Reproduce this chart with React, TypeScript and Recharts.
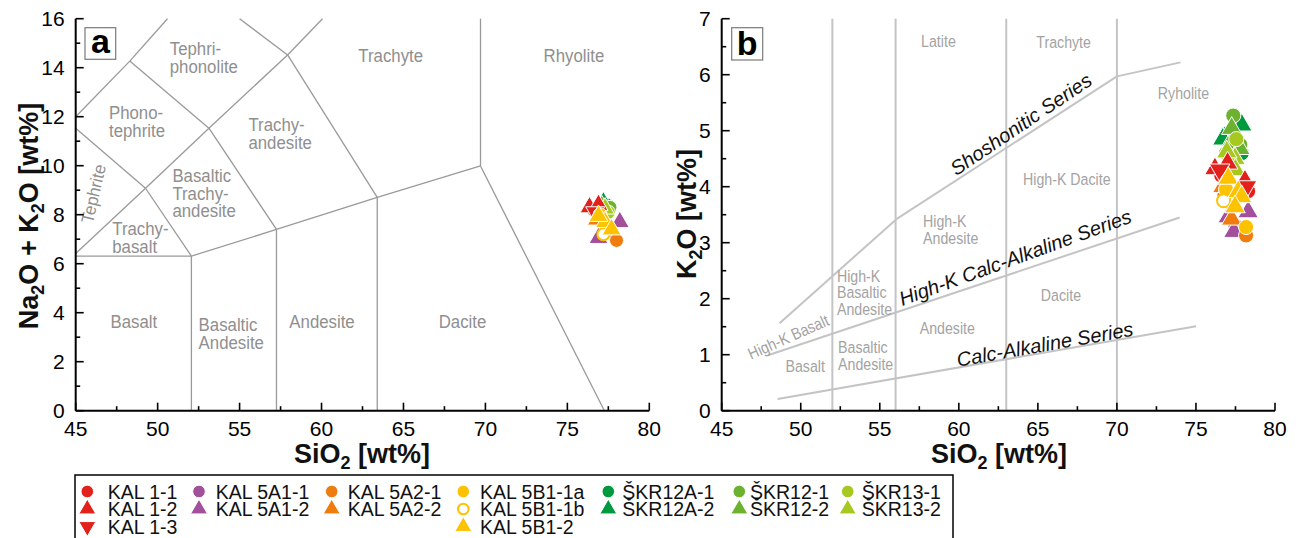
import React from 'react';
import { ScatterChart, Scatter, XAxis, YAxis, ReferenceLine } from 'recharts';

const FONT = '"Liberation Sans", Arial, Helvetica, sans-serif';

// axis ticks (majors carry labels, the rest are minor ticks)
const siTicks = [45, 47.5, 50, 52.5, 55, 57.5, 60, 62.5, 65, 67.5, 70, 72.5, 75, 77.5, 80];
const tasTicks = [0, 1, 2, 3, 4, 5, 6, 7, 8, 9, 10, 11, 12, 13, 14, 15, 16];
const k2oTicks = [0, 0.5, 1, 1.5, 2, 2.5, 3, 3.5, 4, 4.5, 5, 5.5, 6, 6.5, 7];

// samples
const sampleNames = [
  'KAL 1-1', 'KAL 1-2', 'KAL 1-3', 'KAL 5A1-1', 'KAL 5A1-2', 'KAL 5A2-1', 'KAL 5A2-2',
  'KAL 5B1-1a', 'KAL 5B1-1b', 'KAL 5B1-2', 'ŠKR12A-1', 'ŠKR12A-2', 'ŠKR12-1', 'ŠKR12-2',
  'ŠKR13-1', 'ŠKR13-2',
];
const sampleColors = [
  '#e3211c', '#e3211c', '#e3211c', '#a3509c', '#a3509c', '#ef7c0e', '#ef7c0e',
  '#fdc300', '#fdc300', '#fdc300', '#009a3e', '#009a3e', '#6bb32e', '#6bb32e',
  '#a6c81f', '#a6c81f',
];
const sampleShapes = [
  'circle', 'triangle', 'down', 'circle', 'triangle', 'circle', 'triangle',
  'circle', 'open', 'triangle', 'circle', 'triangle', 'circle', 'triangle',
  'circle', 'triangle',
];

// TAS: [SiO2, Na2O+K2O]
const tasKAL11 = [[76.6, 8.2]];
const tasKAL12 = [[76.35, 8.3], [76.9, 8.4]];
const tasKAL13 = [[76.7, 8.1]];
const tasKAL5A11 = [[77.6, 7.35]];
const tasKAL5A12 = [[78.2, 7.7], [76.9, 7.05]];
const tasKAL5A21 = [[78.0, 6.95], [77.3, 7.6]];
const tasKAL5A22 = [[76.8, 7.8]];
const tasKAL5B11a = [[77.4, 7.4], [77.0, 8.0]];
const tasKAL5B11b = [[77.2, 7.2]];
const tasKAL5B12 = [[77.3, 7.7], [76.9, 7.95], [77.7, 7.4]];
const tasSKR12A1 = [[77.4, 8.4]];
const tasSKR12A2 = [[77.2, 8.5]];
const tasSKR121 = [[77.6, 8.3]];
const tasSKR122 = [[77.1, 8.35]];
const tasSKR131 = [[77.5, 8.1]];
const tasSKR132 = [[77.3, 8.25]];

// K2O vs SiO2: [SiO2, K2O]
const kKAL11 = [[78.3, 3.92], [76.6, 4.2]];
const kKAL12 = [[76.2, 4.32], [77.0, 4.42], [78.1, 4.1]];
const kKAL13 = [[76.5, 4.3], [78.2, 4.0]];
const kKAL5A11 = [[77.5, 3.3]];
const kKAL5A12 = [[77.04, 3.46], [78.3, 3.55], [77.4, 3.2]];
const kKAL5A21 = [[78.17, 3.13], [76.8, 3.85]];
const kKAL5A22 = [[77.26, 3.42], [76.7, 4.0]];
const kKAL5B11a = [[78.17, 3.28], [76.9, 3.95]];
const kKAL5B11b = [[76.75, 3.75]];
const kKAL5B12 = [[77.04, 4.15], [77.67, 3.91], [77.89, 3.82], [77.47, 3.64]];
const kSKR12A1 = [[77.0, 4.95], [77.9, 4.6]];
const kSKR12A2 = [[77.9, 5.1], [76.7, 4.85]];
const kSKR121 = [[77.36, 5.27], [77.8, 4.75], [77.2, 4.45]];
const kSKR122 = [[77.26, 5.04], [77.04, 4.71], [77.78, 4.68]];
const kSKR131 = [[76.9, 4.6], [77.55, 4.85]];
const kSKR132 = [[77.47, 4.5], [76.95, 4.62], [77.5, 4.3]];

const tasData = [tasKAL11, tasKAL12, tasKAL13, tasKAL5A11, tasKAL5A12, tasKAL5A21, tasKAL5A22,
  tasKAL5B11a, tasKAL5B11b, tasKAL5B12, tasSKR12A1, tasSKR12A2, tasSKR121, tasSKR122, tasSKR131, tasSKR132];
const k2oData = [kKAL11, kKAL12, kKAL13, kKAL5A11, kKAL5A12, kKAL5A21, kKAL5A22,
  kKAL5B11a, kKAL5B11b, kKAL5B12, kSKR12A1, kSKR12A2, kSKR121, kSKR122, kSKR131, kSKR132];

// field boundaries, TAS
const tasFieldLines = [
  [[45, 12], [48.3, 14.27], [50.6, 16]],
  [[45, 11.53], [49.26, 9.08], [52.06, 6.31]],
  [[45, 6.31], [52.06, 6.31], [52.06, 0]],
  [[45, 6.42], [49.26, 9.08], [53.13, 11.53], [57.93, 14.52], [60.06, 16]],
  [[48.3, 14.27], [53.13, 11.53], [57.25, 7.4]],
  [[55.0, 16], [57.93, 14.52], [63.4, 8.71]],
  [[52.06, 6.31], [57.25, 7.4], [63.4, 8.71], [69.7, 9.99], [77.26, 0]],
  [[57.25, 7.4], [57.25, 0]],
  [[63.4, 8.71], [63.4, 0]],
  [[69.7, 16], [69.7, 9.99]],
];

// field boundaries, K2O
const k2oVerticals = [52, 56, 63, 70];
const k2oSeriesLines = [
  [[48.66, 1.56], [56.05, 3.42], [70, 5.97], [74.02, 6.22]],
  [[47.93, 0.99], [73.97, 3.45]],
  [[48.54, 0.21], [75.01, 1.51]],
];

const tasFieldLabels = [
  { x: 50.74, y: 14.76, text: ['Tephri-', 'phonolite'], anchor: 'start' },
  { x: 64.22, y: 14.48, text: ['Trachyte'], anchor: 'middle' },
  { x: 75.4, y: 14.48, text: ['Rhyolite'], anchor: 'middle' },
  { x: 47.03, y: 12.15, text: ['Phono-', 'tephrite'], anchor: 'start' },
  { x: 55.54, y: 11.66, text: ['Trachy-', 'andesite'], anchor: 'start' },
  { x: 50.9, y: 9.58, text: ['Basaltic', 'Trachy-', 'andesite'], anchor: 'start' },
  { x: 47.23, y: 7.42, text: ['Trachy-', 'basalt'], anchor: 'start' },
  { x: 46.07, y: 8.86, text: ['Tephrite'], anchor: 'middle', angle: -77 },
  { x: 48.55, y: 3.62, text: ['Basalt'], anchor: 'middle' },
  { x: 52.5, y: 3.5, text: ['Basaltic', 'Andesite'], anchor: 'start' },
  { x: 60.03, y: 3.62, text: ['Andesite'], anchor: 'middle' },
  { x: 68.6, y: 3.62, text: ['Dacite'], anchor: 'middle' },
];

const k2oFieldLabels = [
  { x: 58.71, y: 6.6, text: ['Latite'], anchor: 'middle' },
  { x: 66.63, y: 6.58, text: ['Trachyte'], anchor: 'middle' },
  { x: 74.21, y: 5.67, text: ['Ryholite'], anchor: 'middle' },
  { x: 66.83, y: 4.14, text: ['High-K Dacite'], anchor: 'middle' },
  { x: 57.74, y: 3.38, text: ['High-K', 'Andesite'], anchor: 'start' },
  { x: 52.29, y: 2.41, text: ['High-K', 'Basaltic', 'Andesite'], anchor: 'start' },
  { x: 66.46, y: 2.07, text: ['Dacite'], anchor: 'middle' },
  { x: 59.27, y: 1.47, text: ['Andesite'], anchor: 'middle' },
  { x: 52.36, y: 1.13, text: ['Basaltic', 'Andesite'], anchor: 'start' },
  { x: 50.28, y: 0.79, text: ['Basalt'], anchor: 'middle' },
  { x: 49.21, y: 1.32, text: ['High-K Basalt'], anchor: 'middle', angle: -24 },
];

const k2oSeriesLabels = [
  { x: 63.92, y: 5.12, text: ['Shoshonitic Series'], anchor: 'middle', angle: -34 },
  { x: 63.56, y: 2.74, text: ['High-K Calc-Alkaline Series'], anchor: 'middle', angle: -20 },
  { x: 65.44, y: 1.19, text: ['Calc-Alkaline Series'], anchor: 'middle', angle: -10 },
];

const samples = sampleNames.map((name, i) => ({
  name,
  color: sampleColors[i],
  shape: sampleShapes[i],
  tas: tasData[i].map(([x, y]) => ({ x, y })),
  k2o: k2oData[i].map(([x, y]) => ({ x, y })),
}));
// ŠKR drawn first, KAL on top
const drawOrder = [10, 11, 12, 13, 14, 15, 0, 1, 2, 3, 4, 5, 6, 7, 8, 9];

function Marker({ cx, cy, shape, color, size = 1 }: any) {
  if (cx == null || cy == null) return null;
  const r = 7 * size;
  const t = 9.5 * size;
  const h = t * 1.732;
  if (shape === 'circle') return <circle cx={cx} cy={cy} r={r} fill={color} stroke="#fff" strokeWidth={1} />;
  if (shape === 'open') return <circle cx={cx} cy={cy} r={r - 1} fill="#fff" stroke={color} strokeWidth={2} />;
  if (shape === 'down') {
    return <polygon points={`${cx},${cy + h * 2 / 3} ${cx + t},${cy - h / 3} ${cx - t},${cy - h / 3}`} fill={color} stroke="#fff" strokeWidth={1} />;
  }
  return <polygon points={`${cx},${cy - h * 2 / 3} ${cx + t},${cy + h / 3} ${cx - t},${cy + h / 3}`} fill={color} stroke="#fff" strokeWidth={1} />;
}

const renderTick = (side: string, step: number) => (p: any) => {
  const { x, y, payload } = p;
  const v = payload.value;
  const major = Math.abs(v / step - Math.round(v / step)) < 1e-6;
  const len = major ? 8 : 4.5;
  let line = null;
  let label = null;
  if (side === 'bottom') {
    line = <line x1={x} y1={y} x2={x} y2={y - len} stroke="#000" strokeWidth={1.6} />;
    if (major) label = <text x={x} y={y + 18} dy="0.36em" textAnchor="middle" fontSize={21} fontFamily={FONT} fill="#000">{v}</text>;
  } else if (side === 'top') {
    line = <line x1={x} y1={y} x2={x} y2={y + len} stroke="#000" strokeWidth={1.6} />;
  } else if (side === 'left') {
    line = <line x1={x} y1={y} x2={x + len} y2={y} stroke="#000" strokeWidth={1.6} />;
    if (major) label = <text x={x - 11} y={y} dy="0.36em" textAnchor="end" fontSize={21} fontFamily={FONT} fill="#000">{v}</text>;
  } else {
    line = <line x1={x} y1={y} x2={x - len} y2={y} stroke="#000" strokeWidth={1.6} />;
  }
  return <g>{line}{label}</g>;
};

const renderLabel = (opts: any) => (p: any) => {
  const d = p.payload;
  if (p.cx == null) return null;
  return (
    <text
      transform={`translate(${p.cx},${p.cy}) rotate(${d.angle || 0}) scale(${opts.sx},1)`}
      textAnchor={d.anchor}
      fontSize={opts.size}
      fontFamily={FONT}
      fontStyle={opts.italic ? 'italic' : 'normal'}
      fill={opts.color}
    >
      {d.text.map((t: string, i: number) => (
        <tspan key={i} x={0} y={i * opts.lh} dy="0.36em">{t}</tspan>
      ))}
    </text>
  );
};

const frame = { stroke: '#000', strokeWidth: 2 };

function Axes({ yTicks, yMax, yStep, yWidth }: any) {
  return [
    <XAxis key="xb" type="number" dataKey="x" domain={[45, 80]} ticks={siTicks} interval={0} allowDataOverflow
      height={49.3} tickSize={0} tickMargin={0} tickLine={false} axisLine={frame} tick={renderTick('bottom', 5)} />,
    <XAxis key="xt" xAxisId="top" orientation="top" type="number" dataKey="x" domain={[45, 80]} ticks={siTicks} interval={0} allowDataOverflow
      height={0} tickSize={0} tickMargin={0} tickLine={false} axisLine={frame} tick={renderTick('top', 5)} />,
    <YAxis key="yl" type="number" dataKey="y" domain={[0, yMax]} ticks={yTicks} interval={0} allowDataOverflow
      width={yWidth} tickSize={0} tickMargin={0} tickLine={false} axisLine={frame} tick={renderTick('left', yStep)} />,
    <YAxis key="yr" yAxisId="right" orientation="right" type="number" dataKey="y" domain={[0, yMax]} ticks={yTicks} interval={0} allowDataOverflow
      width={0} tickSize={0} tickMargin={0} tickLine={false} axisLine={frame} tick={renderTick('right', yStep)} />,
  ];
}

function segments(lines: number[][][]) {
  const out: any[] = [];
  lines.forEach((pl) => {
    for (let i = 0; i < pl.length - 1; i++) out.push([{ x: pl[i][0], y: pl[i][1] }, { x: pl[i + 1][0], y: pl[i + 1][1] }]);
  });
  return out;
}

function TasChart() {
  return (
    <ScatterChart width={680} height={460} margin={{ top: 18.7, right: 30.7, bottom: 0, left: 0 }}>
      {Axes({ yTicks: tasTicks, yMax: 16, yStep: 2, yWidth: 75.7 })}
      {segments(tasFieldLines).map((s, i) => (
        <ReferenceLine key={i} segment={s} stroke="#9a9a9a" strokeWidth={1.3} ifOverflow="visible" />
      ))}
      <Scatter data={tasFieldLabels} isAnimationActive={false}
        shape={renderLabel({ size: 17.5, lh: 17.5, sx: 0.96, color: '#8f8f8f' })} />
      {drawOrder.map((i) => (
        <Scatter key={samples[i].name} name={samples[i].name} data={samples[i].tas} isAnimationActive={false}
          shape={(p: any) => <Marker cx={p.cx} cy={p.cy} shape={samples[i].shape} color={samples[i].color} size={1} />} />
      ))}
    </ScatterChart>
  );
}

function K2oChart() {
  return (
    <ScatterChart width={620} height={460} margin={{ top: 18.7, right: 25, bottom: 0, left: 0 }}>
      {Axes({ yTicks: k2oTicks, yMax: 7, yStep: 1, yWidth: 41.7 })}
      {k2oVerticals.map((v) => (
        <ReferenceLine key={'v' + v} x={v} stroke="#c4c4c4" strokeWidth={2} />
      ))}
      {segments(k2oSeriesLines).map((s, i) => (
        <ReferenceLine key={i} segment={s} stroke="#c4c4c4" strokeWidth={2} ifOverflow="visible" />
      ))}
      <Scatter data={k2oFieldLabels} isAnimationActive={false}
        shape={renderLabel({ size: 16.5, lh: 16.5, sx: 0.86, color: '#a3a3a3' })} />
      <Scatter data={k2oSeriesLabels} isAnimationActive={false}
        shape={renderLabel({ size: 20, lh: 20, sx: 1, color: '#111', italic: true })} />
      {drawOrder.map((i) => (
        <Scatter key={samples[i].name} name={samples[i].name} data={samples[i].k2o} isAnimationActive={false}
          shape={(p: any) => <Marker cx={p.cx} cy={p.cy} shape={samples[i].shape} color={samples[i].color} size={1.08} />} />
      ))}
    </ScatterChart>
  );
}

// legend columns: [marker x, text x, sample indices]
const legendCols: [number, number, number[]][] = [
  [87.3, 107.7, [0, 1, 2]],
  [199, 215.7, [3, 4]],
  [331.7, 347.7, [5, 6]],
  [463.3, 480, [7, 8, 9]],
  [608.3, 622.3, [10, 11]],
  [739.3, 750, [12, 13]],
  [847.7, 861.7, [14, 15]],
];
const legendRows = [491.5, 509, 526.5];

function Overlay() {
  return (
    <svg width={1300} height={538} style={{ position: 'absolute', left: 0, top: 0, pointerEvents: 'none' }} fontFamily={FONT}>
      {/* axis titles */}
      <text x={362} y={463} textAnchor="middle" fontWeight="bold" fontSize={27} fill="#111">
        SiO<tspan dy={6} fontSize={18}>2</tspan><tspan dy={-6}> [wt%]</tspan>
      </text>
      <text x={999} y={463} textAnchor="middle" fontWeight="bold" fontSize={27} fill="#111">
        SiO<tspan dy={6} fontSize={18}>2</tspan><tspan dy={-6}> [wt%]</tspan>
      </text>
      <text transform="translate(38,216) rotate(-90)" textAnchor="middle" fontWeight="bold" fontSize={27} fill="#111">
        Na<tspan dy={6} fontSize={18}>2</tspan><tspan dy={-6}>O + K</tspan><tspan dy={6} fontSize={18}>2</tspan><tspan dy={-6}>O [wt%]</tspan>
      </text>
      <text transform="translate(696,214) rotate(-90)" textAnchor="middle" fontWeight="bold" fontSize={27} fill="#111">
        K<tspan dy={6} fontSize={18}>2</tspan><tspan dy={-6}>O [wt%]</tspan>
      </text>

      {/* panel tags */}
      <rect x={85} y={27.7} width={30.7} height={31.6} fill="#fff" stroke="#7a7a7a" strokeWidth={1.2} />
      <text x={100.4} y={53.3} textAnchor="middle" fontWeight="bold" fontSize={34} fill="#000">a</text>
      <rect x={731.7} y={27.7} width={31} height={32.3} fill="#fff" stroke="#7a7a7a" strokeWidth={1.2} />
      <text x={747.2} y={55} textAnchor="middle" fontWeight="bold" fontSize={34} fill="#000">b</text>

      {/* legend */}
      <rect x={75} y={475} width={878} height={70} fill="none" stroke="#000" strokeWidth={1.5} />
      {legendCols.map(([mx, tx, idx]) =>
        idx.map((si, r) => (
          <g key={si}>
            <Marker cx={mx} cy={legendRows[r]} shape={samples[si].shape} color={samples[si].color} size={0.9} />
            <text x={tx} y={legendRows[r]} dy="0.36em" fontSize={19.5} fill="#111">{samples[si].name}</text>
          </g>
        ))
      )}
    </svg>
  );
}

export default function App() {
  return (
    <div style={{ position: 'absolute', left: 0, top: 0, width: 1300, height: 538, background: '#fff', fontFamily: FONT }}>
      <div style={{ position: 'absolute', left: 0, top: 0 }}>
        <TasChart />
      </div>
      <div style={{ position: 'absolute', left: 680, top: 0 }}>
        <K2oChart />
      </div>
      <Overlay />
    </div>
  );
}
